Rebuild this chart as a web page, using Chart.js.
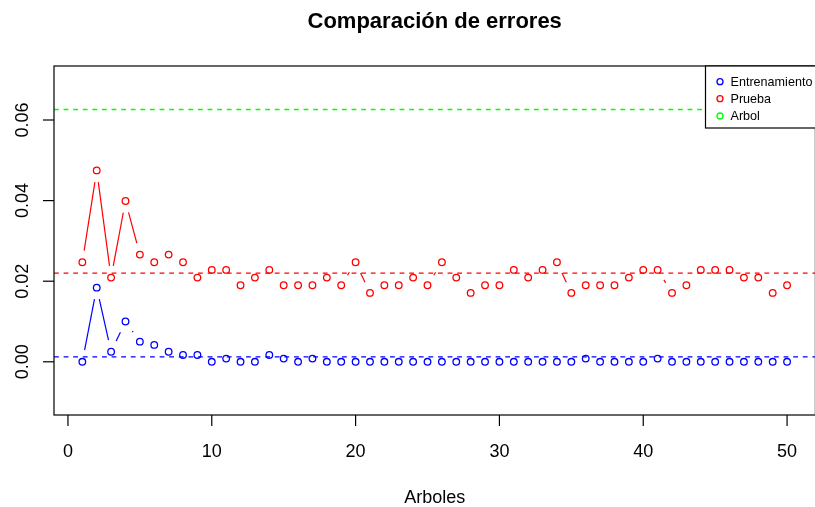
<!DOCTYPE html>
<html>
<head>
<meta charset="utf-8">
<script src="https://cdn.jsdelivr.net/npm/chart.js@4/dist/chart.umd.min.js"></script>
<style>
  html, body { margin: 0; padding: 0; background: #fff; overflow: hidden; }
  #wrap { width: 815px; height: 507px; overflow: hidden; }
  canvas { display: block; }
</style>
</head>
<body>
<div id="wrap"><canvas id="c" width="820" height="507"></canvas></div>
<script>
// Number of trees (x values)
const arboles = Array.from({ length: 50 }, (_, i) => i + 1);

// Training error per number of trees
const entrenamiento = [
  0, 0.0184, 0.0025, 0.0100, 0.0050, 0.0042, 0.0025, 0.0017, 0.0017, 0,
  0.0008, 0, 0, 0.0017, 0.0008, 0, 0.0008, 0, 0, 0,
  0, 0, 0, 0, 0, 0, 0, 0, 0, 0,
  0, 0, 0, 0, 0, 0.0008, 0, 0, 0, 0,
  0.0008, 0, 0, 0, 0, 0, 0, 0, 0, 0
];

// Test error per number of trees
const prueba = [
  0.0247, 0.0475, 0.0209, 0.0399, 0.0266, 0.0247, 0.0266, 0.0247, 0.0209, 0.0228,
  0.0228, 0.0190, 0.0209, 0.0228, 0.0190, 0.0190, 0.0190, 0.0209, 0.0190, 0.0247,
  0.0171, 0.0190, 0.0190, 0.0209, 0.0190, 0.0247, 0.0209, 0.0171, 0.0190, 0.0190,
  0.0228, 0.0209, 0.0228, 0.0247, 0.0171, 0.0190, 0.0190, 0.0190, 0.0209, 0.0228,
  0.0228, 0.0171, 0.0190, 0.0228, 0.0228, 0.0228, 0.0209, 0.0209, 0.0171, 0.0190
];

// Reference levels: mean training error, mean test error, single tree error
const mediaEntrenamiento = 0.0012;
const mediaPrueba = 0.0220;
const errorArbol = 0.0626;

// Axis ticks and labels
const xTicks = [0, 10, 20, 30, 40, 50];
const yTicks = [0, 0.02, 0.04, 0.06];
const yTickLabels = ['0.00', '0.02', '0.04', '0.06'];

const legendLabels = ['Entrenamiento', 'Prueba', 'Arbol'];
const legendColors = ['#0000FF', '#FF0000', '#00FF00'];

const X_MIN = -0.97, X_MAX = 51.97;
const Y_MIN = -0.0132, Y_MAX = 0.0734;
const FONT = '"Liberation Sans", Arial, Helvetica, sans-serif';

const pts = (ys) => ys.map((y, i) => ({ x: arboles[i], y }));
const hline = (v) => [{ x: X_MIN, y: v }, { x: X_MAX, y: v }];

const pointDs = (label, data, color) => ({
  label, data: pts(data), showLine: false,
  borderColor: color, backgroundColor: 'rgba(0,0,0,0)',
  pointRadius: 3.3, pointHoverRadius: 3.3, pointBorderWidth: 1.3,
  pointBackgroundColor: 'rgba(0,0,0,0)', pointBorderColor: color,
  gapped: true
});
const lineDs = (data, color) => ({
  data, showLine: true, borderColor: color, backgroundColor: color, borderWidth: 1.3,
  borderDash: [4.8, 4.8], pointRadius: 0, fill: false, tension: 0
});

// Lines between points with a gap around each point (type "b" style)
const gappedLines = {
  id: 'gappedLines',
  afterDatasetsDraw(chart) {
    const ctx = chart.ctx, a = chart.chartArea, g = 11.8;
    ctx.save();
    ctx.beginPath(); ctx.rect(a.left, a.top, a.right - a.left, a.bottom - a.top); ctx.clip();
    chart.data.datasets.forEach((ds, di) => {
      if (!ds.gapped) return;
      const els = chart.getDatasetMeta(di).data;
      ctx.strokeStyle = ds.borderColor; ctx.lineWidth = 1.2;
      for (let i = 1; i < els.length; i++) {
        const x0 = els[i - 1].x, y0 = els[i - 1].y, x1 = els[i].x, y1 = els[i].y;
        const d = Math.hypot(x1 - x0, y1 - y0), f = g / d;
        if (f < 0.5) {
          ctx.beginPath();
          ctx.moveTo(x0 + f * (x1 - x0), y0 + f * (y1 - y0));
          ctx.lineTo(x1 + f * (x0 - x1), y1 + f * (y0 - y1));
          ctx.stroke();
        }
      }
    });
    ctx.restore();
  }
};

// Box, axes, labels, title and legend
const frame = {
  id: 'frame',
  afterDraw(chart) {
    const ctx = chart.ctx, a = chart.chartArea;
    const xs = chart.scales.x, ys = chart.scales.y;
    ctx.save();
    ctx.strokeStyle = '#000'; ctx.fillStyle = '#000'; ctx.lineWidth = 1.2;
    ctx.strokeRect(a.left, a.top, a.right - a.left, a.bottom - a.top);

    ctx.font = '18px ' + FONT;
    ctx.textAlign = 'center'; ctx.textBaseline = 'alphabetic';
    xTicks.forEach(v => {
      const px = xs.getPixelForValue(v);
      ctx.beginPath(); ctx.moveTo(px, a.bottom); ctx.lineTo(px, a.bottom + 11); ctx.stroke();
      ctx.fillText(String(v), px, 457);
    });
    yTicks.forEach((v, i) => {
      const py = ys.getPixelForValue(v);
      ctx.beginPath(); ctx.moveTo(a.left, py); ctx.lineTo(a.left - 11, py); ctx.stroke();
      ctx.save();
      ctx.translate(28, py); ctx.rotate(-Math.PI / 2);
      ctx.fillText(yTickLabels[i], 0, 0);
      ctx.restore();
    });

    const cx = (a.left + a.right) / 2;
    ctx.fillText('Arboles', cx, 503);
    ctx.font = 'bold 22px ' + FONT;
    ctx.fillText('Comparación de errores', cx, 28);

    // legend
    const lx = 705.5, ltop = a.top, lbot = 128;
    ctx.fillStyle = '#fff';
    ctx.fillRect(lx, ltop, 130, lbot - ltop);
    ctx.strokeStyle = '#000'; ctx.lineWidth = 1.2;
    ctx.strokeRect(lx, ltop, 130, lbot - ltop);
    ctx.font = '12.6px ' + FONT; ctx.textAlign = 'left'; ctx.textBaseline = 'middle';
    const rows = [81.7, 98.7, 116];
    legendLabels.forEach((t, i) => {
      ctx.strokeStyle = legendColors[i]; ctx.lineWidth = 1.3;
      ctx.beginPath(); ctx.arc(720, rows[i], 3, 0, Math.PI * 2); ctx.stroke();
      ctx.fillStyle = '#000';
      ctx.fillText(t, 730.5, rows[i] + 0.5);
    });
    ctx.restore();
  }
};

new Chart(document.getElementById('c'), {
  type: 'scatter',
  data: {
    datasets: [
      lineDs(hline(errorArbol), '#00FF00'),
      lineDs(hline(mediaPrueba), '#FF0000'),
      lineDs(hline(mediaEntrenamiento), '#0000FF'),
      pointDs('Entrenamiento', entrenamiento, '#0000FF'),
      pointDs('Prueba', prueba, '#FF0000')
    ]
  },
  options: {
    responsive: false, animation: false, devicePixelRatio: 1,
    layout: { padding: { left: 54, right: 2, top: 66, bottom: 92 } },
    scales: {
      x: { type: 'linear', min: X_MIN, max: X_MAX, display: false },
      y: { type: 'linear', min: Y_MIN, max: Y_MAX, display: false }
    },
    plugins: { legend: { display: false }, title: { display: false }, tooltip: { enabled: false } },
    events: []
  },
  plugins: [gappedLines, frame]
});
</script>
</body>
</html>
